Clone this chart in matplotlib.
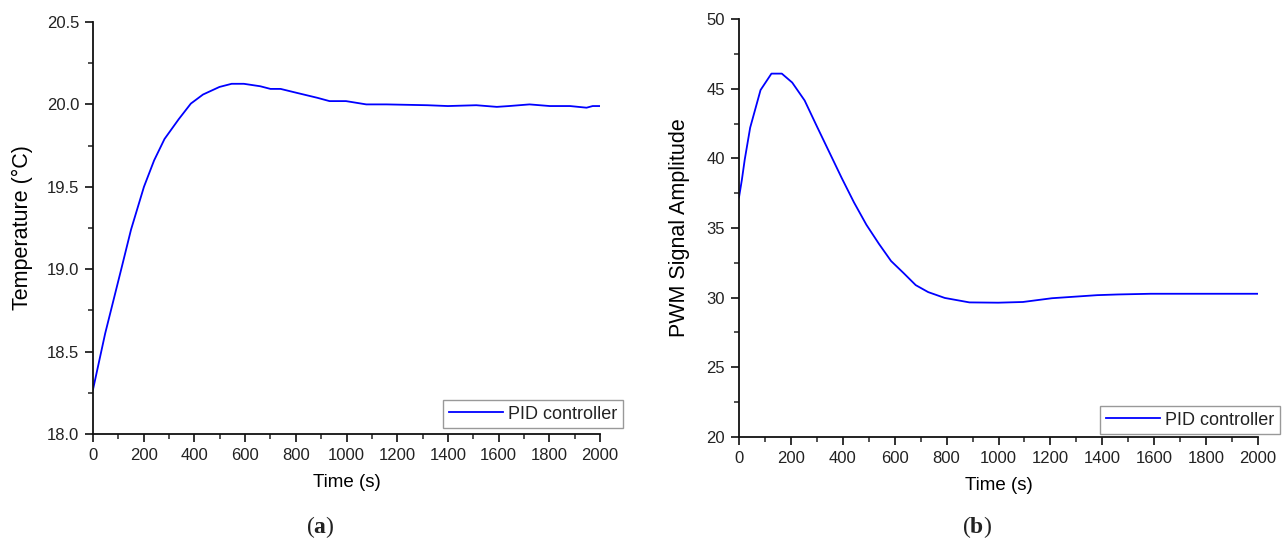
import matplotlib
matplotlib.use("Agg")
import matplotlib.pyplot as plt
from matplotlib.ticker import MultipleLocator, FormatStrFormatter

plt.rcParams['font.family'] = ['Liberation Sans', 'DejaVu Sans']
plt.rcParams['mathtext.fontset'] = 'custom'
plt.rcParams['mathtext.bf'] = 'Liberation Serif:bold'
plt.rcParams['mathtext.rm'] = 'Liberation Serif'
plt.rcParams['text.color'] = '#222222'
plt.rcParams['xtick.color'] = '#222222'
plt.rcParams['ytick.color'] = '#222222'

# (a) temperature response
time_a = [0, 48, 113, 150, 201, 241, 282, 338, 386, 434, 499, 547, 595, 660, 700,
          740, 804, 885, 933, 998, 1078, 1158, 1319, 1400, 1512, 1593, 1641, 1722,
          1802, 1882, 1947, 1971, 2000]
temp_a = [18.27, 18.61, 19.01, 19.24, 19.50, 19.66, 19.79, 19.91, 20.005, 20.06,
          20.106, 20.125, 20.125, 20.11, 20.094, 20.094, 20.07, 20.04, 20.02, 20.02,
          20.0, 20.0, 19.995, 19.99, 19.995, 19.985, 19.99, 20.0, 19.99, 19.99,
          19.98, 19.99, 19.99]

# (b) PWM signal
time_b = [0, 11, 22, 43, 83, 125, 165, 205, 253, 300, 348, 396, 443, 491, 539,
          586, 634, 681, 729, 793, 888, 999, 1094, 1206, 1301, 1380, 1460, 1587,
          2000]
pwm_b = [37.2, 38.45, 39.9, 42.2, 44.9, 46.08, 46.08, 45.44, 44.15, 42.3, 40.44,
         38.58, 36.84, 35.23, 33.87, 32.63, 31.77, 30.9, 30.4, 29.98, 29.66, 29.64,
         29.69, 29.96, 30.08, 30.18, 30.23, 30.28, 30.28]

W, H = 1284, 545
fig = plt.figure(figsize=(W / 100, H / 100), dpi=100)


def style_axes(ax):
    for s in ['top', 'right']:
        ax.spines[s].set_visible(False)
    for s in ['left', 'bottom']:
        ax.spines[s].set_linewidth(1.3)
        ax.spines[s].set_color('#111111')
    ax.xaxis.set_major_locator(MultipleLocator(200))
    ax.xaxis.set_minor_locator(MultipleLocator(100))
    ax.tick_params(which='major', direction='out', length=6, width=1.3,
                   labelsize=12, pad=4)
    ax.tick_params(which='minor', direction='out', length=3.5, width=1.1)
    ax.set_xlim(0, 2000)
    ax.set_xlabel("Time (s)", fontsize=13.5, labelpad=8)


def add_legend(ax, right, bottom):
    ax.legend(loc='lower right', bbox_to_anchor=(right / W, 1 - bottom / H),
              bbox_transform=fig.transFigure, frameon=True, fancybox=False,
              edgecolor='#808080', fontsize=13, handlelength=3.0,
              borderpad=0.3, handletextpad=0.3, borderaxespad=0)


ax1 = fig.add_axes([93 / W, 1 - 434 / H, (600 - 93) / W, (434 - 22) / H])
ax1.plot(time_a, temp_a, color='#0000ff', lw=1.3, label='PID controller')
style_axes(ax1)
ax1.set_ylim(18.0, 20.5)
ax1.yaxis.set_major_locator(MultipleLocator(0.5))
ax1.yaxis.set_minor_locator(MultipleLocator(0.25))
ax1.yaxis.set_major_formatter(FormatStrFormatter('%.1f'))
ax1.set_ylabel("Temperature (°C)", fontsize=15.5, labelpad=10)
add_legend(ax1, 623, 428)

ax2 = fig.add_axes([739 / W, 1 - 437 / H, (1258 - 739) / W, (437 - 19) / H])
ax2.plot(time_b, pwm_b, color='#0000ff', lw=1.3, label='PID controller')
style_axes(ax2)
ax2.set_ylim(20, 50)
ax2.yaxis.set_major_locator(MultipleLocator(5))
ax2.yaxis.set_minor_locator(MultipleLocator(2.5))
ax2.set_ylabel("PWM Signal Amplitude", fontsize=15.5, labelpad=12)
add_legend(ax2, 1280, 434)

fig.text(320 / W, 1 - 527 / H, r'($\mathbf{a}$)', ha='center', va='center',
         fontsize=17, family='Liberation Serif')
fig.text(977 / W, 1 - 527 / H, r'($\mathbf{b}$)', ha='center', va='center',
         fontsize=17, family='Liberation Serif')

fig.savefig("out.png", dpi=100)
